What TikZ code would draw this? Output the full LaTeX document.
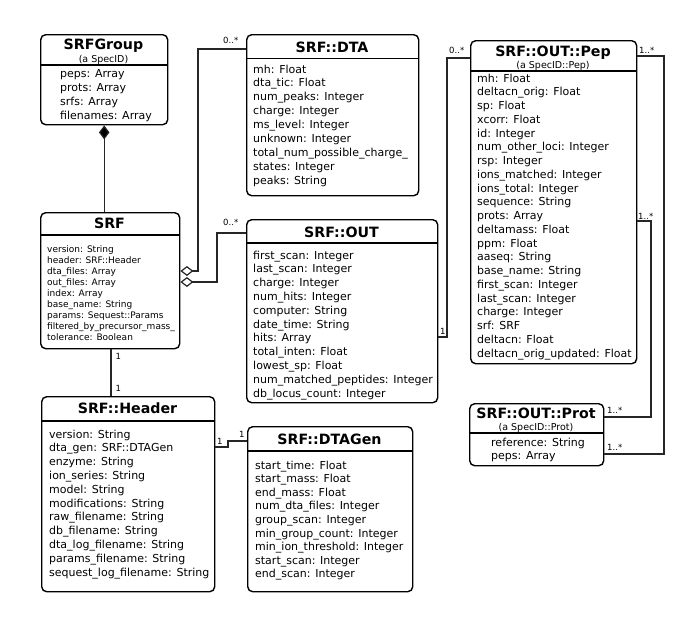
\documentclass[tikz,border=0pt]{standalone}
\usepackage{fontspec}
\setmainfont{DejaVu Sans}
\usetikzlibrary{arrows.meta}
\tikzset{
  cls/.style={draw=black, line width=1.4pt, rounded corners=5pt, anchor=north west, inner sep=0pt},
  sepline/.style={draw=black, line width=1.2pt},
  ttl/.style={font=\bfseries\fontsize{14.2}{16}\selectfont, anchor=base, inner sep=0pt},
  subttl/.style={font=\fontsize{9.5}{11}\selectfont, anchor=base, inner sep=0pt},
  attr/.style={font=\fontsize{11}{13}\selectfont, anchor=base west, inner sep=0pt},
  sattr/.style={font=\fontsize{9}{11}\selectfont, anchor=base west, inner sep=0pt},
  mult/.style={font=\fontsize{8.5}{10}\selectfont, anchor=base west, inner sep=0pt},
  conn/.style={draw=black!85, line width=1.2pt},
  comp/.style={conn, {Diamond[length=14pt,width=10.5pt,fill=black]}-},
  agg/.style={conn, {Diamond[open,length=13pt,width=10pt,fill=white]}-},
}
\begin{document}
\begin{tikzpicture}[x=1pt,y=-1pt]
\useasboundingbox[fill=white] (0,0) rectangle (700,630);

% ---------- SRFGroup ----------
\node[cls, minimum width=127pt, minimum height=90pt] (srfgroup) at (40,34) {};
\node[ttl] (srfgroup-t) at (103.5,49) {SRFGroup};
\node[subttl] (srfgroup-s) at (103.5,62.5) {(a SpecID)};
\coordinate (sg-sep) at (0,65);
\draw[sepline] (srfgroup.west |- sg-sep) -- (srfgroup.east |- sg-sep);
\foreach \t [count=\i from 0] in {peps: Array, prots: Array, srfs: Array, filenames: Array}
  \node[attr] (srfgroup-a\i) at (60,{77+14*\i}) {\t};

% ---------- SRF ----------
\node[cls, minimum width=139pt, minimum height=136pt] (srf) at (40,212) {};
\node[ttl] (srf-t) at (109.5,228) {SRF};
\coordinate (srf-sep) at (0,235);
\draw[sepline] (srf.west |- srf-sep) -- (srf.east |- srf-sep);
\foreach \t [count=\i from 0] in {version: String, header: SRF::Header, dta\_files: Array, out\_files: Array, index: Array, base\_name: String, params: Sequest::Params, filtered\_by\_precursor\_mass\_, tolerance: Boolean}
  \node[sattr] (srf-a\i) at (47,{252+11.1*\i}) {\t};

% ---------- SRF::DTA ----------
\node[cls, minimum width=172pt, minimum height=161pt] (dta) at (246,34) {};
\node[ttl] (dta-t) at (332,52) {SRF::DTA};
\coordinate (dta-sep) at (0,58.5);
\draw[sepline] (dta.west |- dta-sep) -- (dta.east |- dta-sep);
\foreach \t [count=\i from 0] in {mh: Float, dta\_tic: Float, num\_peaks: Integer, charge: Integer, ms\_level: Integer, unknown: Integer, total\_num\_possible\_charge\_, states: Integer, peaks: String}
  \node[attr] (dta-a\i) at (253,{73+13.9*\i}) {\t};

% ---------- SRF::OUT ----------
\node[cls, minimum width=191pt, minimum height=183pt] (out) at (246,219) {};
\node[ttl] (out-t) at (341.5,237) {SRF::OUT};
\coordinate (out-sep) at (0,243);
\draw[sepline] (out.west |- out-sep) -- (out.east |- out-sep);
\foreach \t [count=\i from 0] in {first\_scan: Integer, last\_scan: Integer, charge: Integer, num\_hits: Integer, computer: String, date\_time: String, hits: Array, total\_inten: Float, lowest\_sp: Float, num\_matched\_peptides: Integer, db\_locus\_count: Integer}
  \node[attr] (out-a\i) at (253,{259+13.8*\i}) {\t};

% ---------- SRF::OUT::Pep ----------
\node[cls, minimum width=166pt, minimum height=323pt] (pep) at (470,40) {};
\node[ttl] (pep-t) at (553,56) {SRF::OUT::Pep};
\node[subttl] (pep-s) at (553,68.5) {(a SpecID::Pep)};
\coordinate (pep-sep) at (0,71);
\draw[sepline] (pep.west |- pep-sep) -- (pep.east |- pep-sep);
\foreach \t [count=\i from 0] in {mh: Float, deltacn\_orig: Float, sp: Float, xcorr: Float, id: Integer, num\_other\_loci: Integer, rsp: Integer, ions\_matched: Integer, ions\_total: Integer, sequence: String, prots: Array, deltamass: Float, ppm: Float, aaseq: String, base\_name: String, first\_scan: Integer, last\_scan: Integer, charge: Integer, srf: SRF, deltacn: Float, deltacn\_orig\_updated: Float}
  \node[attr] (pep-a\i) at (477,{82+13.75*\i}) {\t};

% ---------- SRF::OUT::Prot ----------
\node[cls, minimum width=134pt, minimum height=62pt] (prot) at (469,403) {};
\node[ttl] (prot-t) at (536,418) {SRF::OUT::Prot};
\node[subttl] (prot-s) at (536,430.5) {(a SpecID::Prot)};
\coordinate (prot-sep) at (0,433);
\draw[sepline] (prot.west |- prot-sep) -- (prot.east |- prot-sep);
\foreach \t [count=\i from 0] in {reference: String, peps: Array}
  \node[attr] (prot-a\i) at (491,{446+13.3*\i}) {\t};

% ---------- SRF::Header ----------
\node[cls, minimum width=173pt, minimum height=195pt] (header) at (41,396) {};
\node[ttl] (header-t) at (127.5,413) {SRF::Header};
\coordinate (header-sep) at (0,421);
\draw[sepline] (header.west |- header-sep) -- (header.east |- header-sep);
\foreach \t [count=\i from 0] in {version: String, dta\_gen: SRF::DTAGen, enzyme: String, ion\_series: String, model: String, modifications: String, raw\_filename: String, db\_filename: String, dta\_log\_filename: String, params\_filename: String, sequest\_log\_filename: String}
  \node[attr] (header-a\i) at (49,{438+13.8*\i}) {\t};

% ---------- SRF::DTAGen ----------
\node[cls, minimum width=165pt, minimum height=165pt] (dtagen) at (247,426) {};
\node[ttl] (dtagen-t) at (329.5,444) {SRF::DTAGen};
\coordinate (dtagen-sep) at (0,451);
\draw[sepline] (dtagen.west |- dtagen-sep) -- (dtagen.east |- dtagen-sep);
\foreach \t [count=\i from 0] in {start\_time: Float, start\_mass: Float, end\_mass: Float, num\_dta\_files: Integer, group\_scan: Integer, min\_group\_count: Integer, min\_ion\_threshold: Integer, start\_scan: Integer, end\_scan: Integer}
  \node[attr] (dtagen-a\i) at (255,{469+13.6*\i}) {\t};

% ---------- connectors ----------
% SRFGroup <>-- SRF (composition)
\draw[comp] (srfgroup.south) -- (srf.north -| srfgroup.south);

% SRF <>-- SRF::DTA
\coordinate (c1a) at (198,271);
\coordinate (c1b) at (198,49);
\draw[agg] (srf.east |- c1a) -- (c1a) -- (c1b) -- (dta.west |- c1b);
\node[mult] (m1) at (223,43) {0..*};

% SRF <>-- SRF::OUT
\coordinate (c2a) at (217,282);
\coordinate (c2b) at (217,233);
\draw[agg] (srf.east |- c2a) -- (c2a) -- (c2b) -- (out.west |- c2b);
\node[mult] (m2) at (223,225.5) {0..*};

% SRF -- SRF::Header
\coordinate (c3) at (111,0);
\draw[conn] (srf.south -| c3) -- (header.north -| c3);
\node[mult] (m3) at (115.5,359) {1};
\node[mult] (m4) at (115.5,391) {1};

% SRF::Header -- SRF::DTAGen
\coordinate (c5a) at (228,447);
\coordinate (c5b) at (228,441);
\draw[conn] (header.east |- c5a) -- (c5a) -- (c5b) -- (dtagen.west |- c5b);
\node[mult] (m5) at (217,444.5) {1};
\node[mult] (m6) at (239,437.5) {1};

% SRF::OUT -- SRF::OUT::Pep
\coordinate (c6a) at (447,337);
\coordinate (c6b) at (447,58);
\draw[conn] (out.east |- c6a) -- (c6a) -- (c6b) -- (pep.west |- c6b);
\node[mult] (m7) at (440,334) {1};
\node[mult] (m8) at (449,53) {0..*};

% SRF::OUT::Pep -- SRF::OUT::Prot (outer)
\coordinate (c7a) at (664,56);
\coordinate (c7b) at (664,454);
\draw[conn] (pep.east |- c7a) -- (c7a) -- (c7b) -- (prot.east |- c7b);
\node[mult] (m9) at (639,53) {1..*};
\node[mult] (m10) at (607,450) {1..*};

% SRF::OUT::Pep -- SRF::OUT::Prot (inner)
\coordinate (c8a) at (651,221);
\coordinate (c8b) at (651,417);
\draw[conn] (pep.east |- c8a) -- (c8a) -- (c8b) -- (prot.east |- c8b);
\node[mult] (m11) at (638,219) {1..*};
\node[mult] (m12) at (607,413) {1..*};
\end{tikzpicture}
\end{document}
